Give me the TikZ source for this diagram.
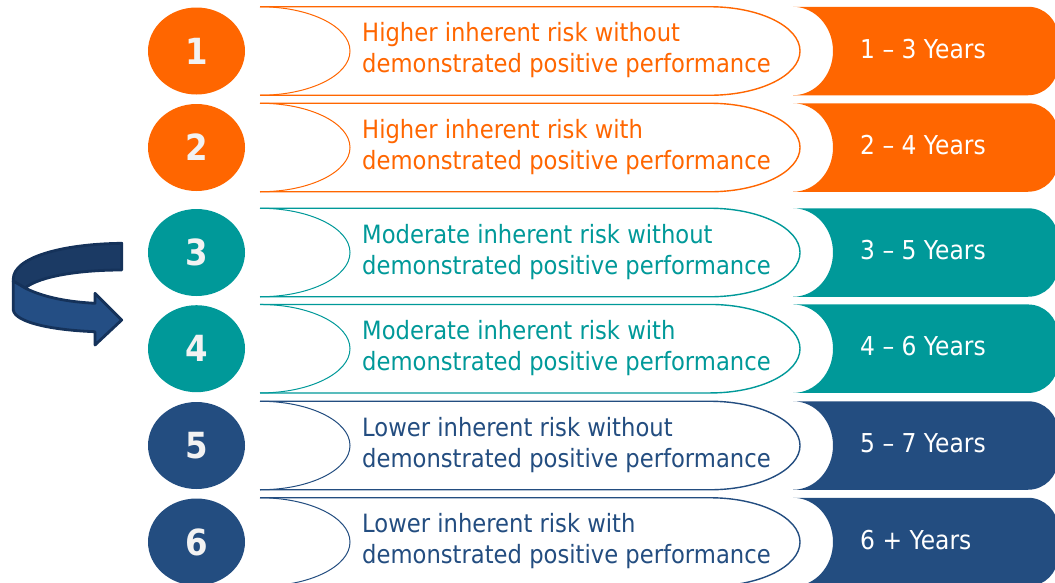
\documentclass[tikz,border=0pt]{standalone}
\usepackage{fontspec}
\setmainfont{DejaVu Sans}[FakeStretch=0.9]
\usetikzlibrary{shapes.geometric}
\definecolor{cOr}{RGB}{255,102,0}
\definecolor{cTe}{RGB}{0,153,153}
\definecolor{cNa}{RGB}{35,77,128}
\definecolor{cNum}{RGB}{242,242,242}
\definecolor{arDark}{RGB}{27,58,100}
\definecolor{arLight}{RGB}{36,78,132}
\definecolor{arLine}{RGB}{21,50,90}
\begin{document}
\begin{tikzpicture}[x=1pt,y=1pt,
  numcirc/.style={ellipse, fill=#1, minimum width=97pt, minimum height=87pt, inner sep=0pt, text=cNum, font=\fontsize{36}{36}\selectfont\bfseries},
  desc/.style={anchor=base west, inner sep=0pt, text=#1, font=\fontsize{25.2}{31}\selectfont},
  yrs/.style={anchor=base west, inner sep=0pt, text=white, font=\fontsize{26}{30}\selectfont},
  outl/.style={draw=#1, line width=1.4pt, fill=white},
  bite/.style={draw=#1, line width=1pt},
  arrowpart/.style={fill=#1, draw=arLine, line width=2.8pt, line join=round},
]
\useasboundingbox (0,0) rectangle (1055,-582);
\def\h{44.25}
\foreach \i/\c/\col/\la/\lb/\yr in {
  1/51/cOr/Higher inherent risk without/demonstrated positive performance/1 – 3 Years,
  2/147.5/cOr/Higher inherent risk with/demonstrated positive performance/2 – 4 Years,
  3/252.5/cTe/Moderate inherent risk without/demonstrated positive performance/3 – 5 Years,
  4/348.7/cTe/Moderate inherent risk with/demonstrated positive performance/4 – 6 Years,
  5/445.5/cNa/Lower inherent risk without/demonstrated positive performance/5 – 7 Years,
  6/542/cNa/Lower inherent risk with/demonstrated positive performance/6 + Years}{
  \pgfmathsetmacro\yc{-\c}
  \path[outl=\col] (260,\yc+\h) -- (710,\yc+\h) arc[start angle=90,end angle=-90,x radius=90,y radius=\h] -- (260,\yc-\h);
  \draw[bite=\col] (260,\yc+\h) arc[start angle=90,end angle=-90,x radius=90,y radius=\h];
  \fill[\col] (793,\yc+\h) -- (1028,\yc+\h) arc[start angle=90,end angle=0,radius=30] -- (1058,\yc-\h+30) arc[start angle=0,end angle=-90,radius=30] -- (793,\yc-\h) arc[start angle=-90,end angle=90,x radius=40,y radius=\h] -- cycle;
  \node[numcirc=\col] (num\i) at (196.5,\yc) {\i};
  \node[desc=\col] (la\i) at (362,\yc+9.5) {\la};
  \node[desc=\col] (lb\i) at (362,\yc-21.5) {\lb};
  \node[yrs] (yr\i) at (860,\yc-7) {\yr};
}
% curved turn arrow
\path[arrowpart=arDark] (121.7,-243.3) .. controls (60,-244) and (13.3,-258) .. (13.3,-279) -- (13.3,-282) -- (25,-288) .. controls (40,-276) and (80,-270) .. (121.7,-270) -- cycle;
\path[arrowpart=arLight] (13.3,-281) -- (25,-288) .. controls (45,-298) and (70,-302) .. (95,-303.3) -- (95,-293.3) -- (121.7,-320) -- (95,-345) -- (95,-331.7) .. controls (50,-330) and (15,-322) .. (13.3,-310) -- cycle;
\end{tikzpicture}
\end{document}
